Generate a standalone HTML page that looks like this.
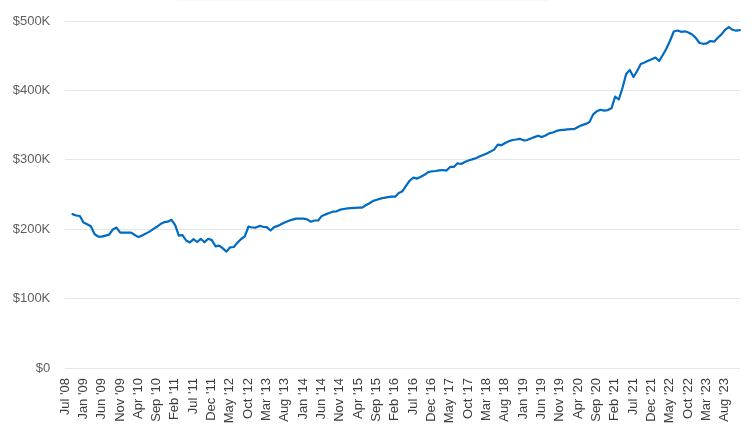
<!DOCTYPE html>
<html><head><meta charset="utf-8"><style>
html,body{margin:0;padding:0;background:#fff;width:754px;height:434px;overflow:hidden}
svg{display:block;position:absolute;left:0;top:0;will-change:transform}
.shadow{position:absolute;left:178px;top:-6px;width:371px;height:6px;box-shadow:0 0 2px rgba(60,64,110,0.13)}
</style></head><body>
<div class="shadow"></div>
<svg width="754" height="434" viewBox="0 0 754 434">
<g stroke="#e6e6e6" stroke-width="1" shape-rendering="crispEdges"><line x1="65" x2="739.8" y1="21.4" y2="21.4" /><line x1="65" x2="739.8" y1="90.6" y2="90.6" /><line x1="65" x2="739.8" y1="159.9" y2="159.9" /><line x1="65" x2="739.8" y1="229.3" y2="229.3" /><line x1="65" x2="739.8" y1="298.7" y2="298.7" /><line x1="65" x2="739.8" y1="368.1" y2="368.1" /></g>
<g font-family="'Liberation Sans', sans-serif" font-size="13" fill="#5f5f5f" text-anchor="end"><text x="50.3" y="24.9">$500K</text><text x="50.3" y="94.1">$400K</text><text x="50.3" y="163.4">$300K</text><text x="50.3" y="232.8">$200K</text><text x="50.3" y="302.2">$100K</text><text x="50.3" y="371.6">$0</text></g>
<g font-family="'Liberation Sans', sans-serif" font-size="13" fill="#3c3c3c" text-anchor="end"><text transform="translate(68.50,378.1) rotate(-90)">Jul &#39;08</text><text transform="translate(86.83,378.1) rotate(-90)">Jan &#39;09</text><text transform="translate(105.16,378.1) rotate(-90)">Jun &#39;09</text><text transform="translate(123.50,378.1) rotate(-90)">Nov &#39;09</text><text transform="translate(141.83,378.1) rotate(-90)">Apr &#39;10</text><text transform="translate(160.16,378.1) rotate(-90)">Sep &#39;10</text><text transform="translate(178.49,378.1) rotate(-90)">Feb &#39;11</text><text transform="translate(196.83,378.1) rotate(-90)">Jul &#39;11</text><text transform="translate(215.16,378.1) rotate(-90)">Dec &#39;11</text><text transform="translate(233.49,378.1) rotate(-90)">May &#39;12</text><text transform="translate(251.82,378.1) rotate(-90)">Oct &#39;12</text><text transform="translate(270.16,378.1) rotate(-90)">Mar &#39;13</text><text transform="translate(288.49,378.1) rotate(-90)">Aug &#39;13</text><text transform="translate(306.82,378.1) rotate(-90)">Jan &#39;14</text><text transform="translate(325.15,378.1) rotate(-90)">Jun &#39;14</text><text transform="translate(343.49,378.1) rotate(-90)">Nov &#39;14</text><text transform="translate(361.82,378.1) rotate(-90)">Apr &#39;15</text><text transform="translate(380.15,378.1) rotate(-90)">Sep &#39;15</text><text transform="translate(398.48,378.1) rotate(-90)">Feb &#39;16</text><text transform="translate(416.82,378.1) rotate(-90)">Jul &#39;16</text><text transform="translate(435.15,378.1) rotate(-90)">Dec &#39;16</text><text transform="translate(453.48,378.1) rotate(-90)">May &#39;17</text><text transform="translate(471.81,378.1) rotate(-90)">Oct &#39;17</text><text transform="translate(490.15,378.1) rotate(-90)">Mar &#39;18</text><text transform="translate(508.48,378.1) rotate(-90)">Aug &#39;18</text><text transform="translate(526.81,378.1) rotate(-90)">Jan &#39;19</text><text transform="translate(545.14,378.1) rotate(-90)">Jun &#39;19</text><text transform="translate(563.48,378.1) rotate(-90)">Nov &#39;19</text><text transform="translate(581.81,378.1) rotate(-90)">Apr &#39;20</text><text transform="translate(600.14,378.1) rotate(-90)">Sep &#39;20</text><text transform="translate(618.47,378.1) rotate(-90)">Feb &#39;21</text><text transform="translate(636.80,378.1) rotate(-90)">Jul &#39;21</text><text transform="translate(655.14,378.1) rotate(-90)">Dec &#39;21</text><text transform="translate(673.47,378.1) rotate(-90)">May &#39;22</text><text transform="translate(691.80,378.1) rotate(-90)">Oct &#39;22</text><text transform="translate(710.13,378.1) rotate(-90)">Mar &#39;23</text><text transform="translate(728.47,378.1) rotate(-90)">Aug &#39;23</text></g>
<polyline fill="none" stroke="#006bc2" stroke-width="2.2" stroke-linejoin="round" stroke-linecap="round" points="72.50,214.10 76.17,215.50 79.83,216.00 83.50,222.50 87.17,224.20 90.83,226.30 94.50,234.00 98.17,236.60 101.83,236.60 105.50,235.60 109.16,234.60 112.83,229.50 116.50,227.60 120.16,232.70 123.83,232.60 127.50,232.60 131.16,232.60 134.83,235.00 138.50,237.10 142.16,235.40 145.83,233.60 149.50,231.60 153.16,229.10 156.83,226.80 160.50,224.10 164.16,222.20 167.83,221.70 171.50,219.80 175.16,225.20 178.83,235.60 182.49,235.10 186.16,240.50 189.83,242.50 193.49,239.10 197.16,242.00 200.83,238.80 204.49,242.20 208.16,238.80 211.83,240.10 215.49,246.30 219.16,245.60 222.83,248.40 226.49,251.60 230.16,247.30 233.83,247.00 237.49,242.60 241.16,239.00 244.82,236.30 248.49,226.50 252.16,227.50 255.82,227.60 259.49,225.90 263.16,226.80 266.82,227.10 270.49,230.50 274.16,227.10 277.82,225.90 281.49,224.00 285.16,222.20 288.82,220.70 292.49,219.60 296.16,218.60 299.82,218.50 303.49,218.60 307.15,219.40 310.82,221.70 314.49,220.50 318.15,220.50 321.82,215.90 325.49,214.40 329.15,213.00 332.82,211.70 336.49,211.30 340.15,209.70 343.82,209.00 347.49,208.40 351.15,208.10 354.82,207.80 358.49,207.70 362.15,207.60 365.82,205.30 369.49,203.20 373.15,200.90 376.82,199.80 380.48,198.60 384.15,197.80 387.82,197.20 391.48,196.70 395.15,196.70 398.82,192.90 402.48,191.20 406.15,185.70 409.82,180.50 413.48,177.60 417.15,178.60 420.82,176.70 424.48,174.80 428.15,172.20 431.82,171.30 435.48,171.00 439.15,170.30 442.81,170.00 446.48,170.60 450.15,166.90 453.81,166.90 457.48,163.20 461.15,164.00 464.81,162.00 468.48,160.50 472.15,159.40 475.81,158.20 479.48,156.60 483.15,155.10 486.81,153.40 490.48,151.60 494.15,149.60 497.81,144.70 501.48,145.20 505.15,143.00 508.81,141.30 512.48,140.00 516.14,139.50 519.81,138.80 523.48,140.30 527.14,140.10 530.81,138.60 534.48,137.10 538.14,135.70 541.81,137.10 545.48,135.50 549.14,133.40 552.81,132.50 556.48,130.90 560.14,130.20 563.81,129.80 567.48,129.40 571.14,129.10 574.81,128.80 578.47,126.70 582.14,125.10 585.81,123.90 589.47,122.10 593.14,114.40 596.81,111.30 600.47,109.80 604.14,110.60 607.81,110.10 611.47,108.30 615.14,96.60 618.81,99.50 622.47,88.00 626.14,74.00 629.81,70.00 633.47,77.00 637.14,71.00 640.80,64.00 644.47,62.50 648.14,60.80 651.80,59.30 655.47,57.50 659.14,61.00 662.80,55.00 666.47,48.50 670.14,40.50 673.80,31.50 677.47,30.50 681.14,31.80 684.80,31.30 688.47,32.50 692.14,34.50 695.80,38.00 699.47,43.00 703.14,43.80 706.80,43.30 710.47,41.00 714.13,41.70 717.80,37.80 721.47,34.40 725.13,29.80 728.80,27.00 732.47,29.80 736.13,30.70 739.80,30.10"/>
</svg>
</body></html>
